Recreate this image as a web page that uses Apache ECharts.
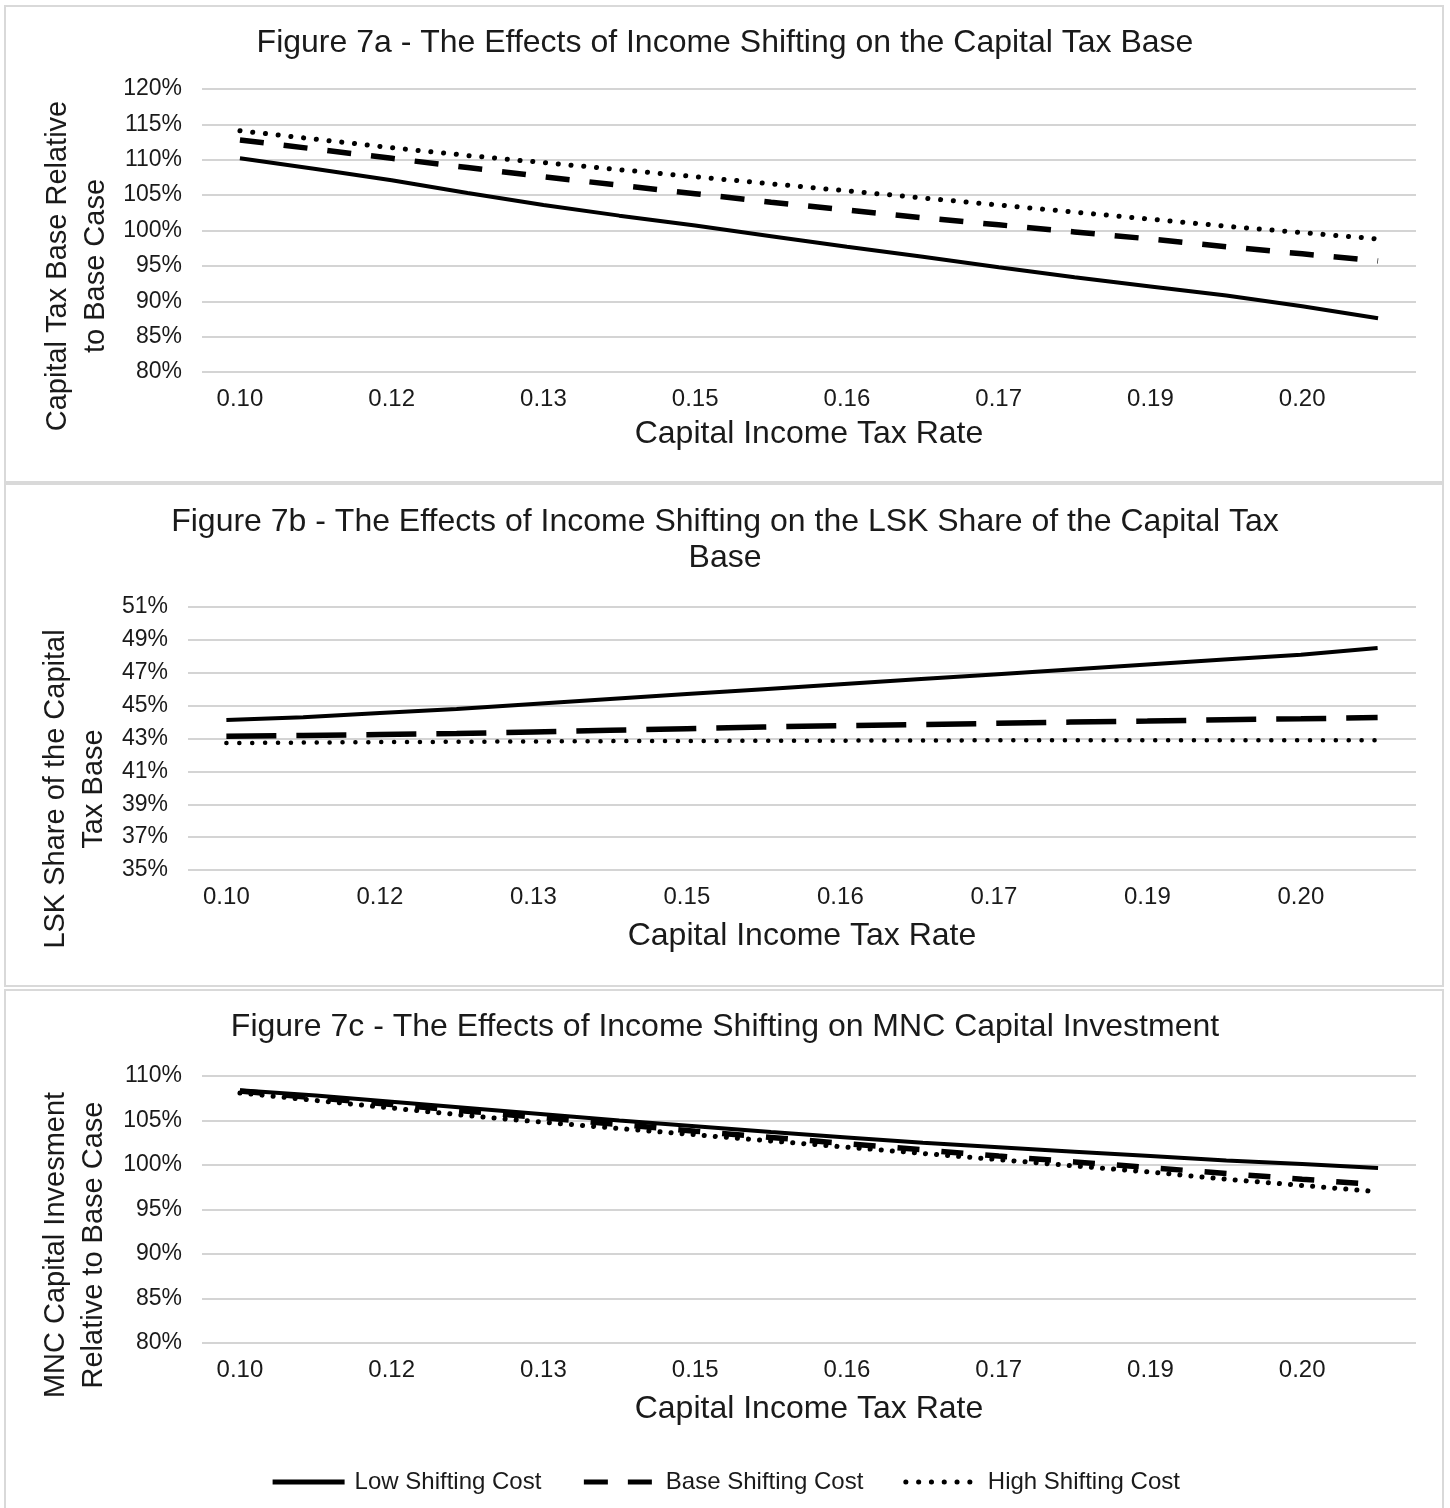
<!DOCTYPE html>
<html><head><meta charset="utf-8">
<script src="https://cdn.jsdelivr.net/npm/echarts@6/dist/echarts.min.js"></script>
<style>html,body{margin:0;padding:0;background:#fff}#c{width:1450px;height:1508px}</style>
</head><body><div id="c"></div>
<script>
// ---- data ----
const rates = ['0.1000','0.1075','0.1150','0.1225','0.1300','0.1375','0.1450','0.1525','0.1600','0.1675','0.1750','0.1825','0.1900','0.1975','0.2050','0.2125'];
const tickLabels = ['0.10','0.12','0.13','0.15','0.16','0.17','0.19','0.20'];
const seriesNames = ['Low Shifting Cost','Base Shifting Cost','High Shifting Cost'];
const titles = [
  'Figure 7a - The Effects of Income Shifting on the Capital Tax Base',
  'Figure 7b - The Effects of Income Shifting on the LSK Share of the Capital Tax\nBase',
  'Figure 7c - The Effects of Income Shifting on MNC Capital Investment'
];
const yNames = [
  'Capital Tax Base Relative\nto Base Case',
  'LSK Share of the Capital\nTax Base',
  'MNC Capital Invesment\nRelative to Base Case'
];
const xName = 'Capital Income Tax Rate';

// Figure 7a: capital tax base relative to base case (%)
const baseLow  = [110.2,108.7,107.1,105.3,103.6,102.1,100.7,99.2,97.7,96.3,94.8,93.4,92.1,90.8,89.3,87.6];
const baseBase = [112.8,111.5,110.2,108.9,107.6,106.4,105.2,104.0,102.9,101.8,100.8,99.8,98.8,97.7,96.7,95.7];
const baseHigh = [114.1,112.9,111.7,110.6,109.6,108.6,107.6,106.6,105.6,104.6,103.6,102.6,101.6,100.6,99.7,98.8];
// Figure 7b: LSK share of the capital tax base (%)
const lskLow  = [44.13,44.3,44.55,44.8,45.1,45.4,45.7,46.0,46.3,46.6,46.9,47.2,47.5,47.8,48.1,48.5];
const lskBase = [43.14,43.18,43.24,43.3,43.4,43.5,43.6,43.7,43.78,43.85,43.92,44.0,44.06,44.14,44.2,44.27];
const lskHigh = [42.72,42.75,42.78,42.8,42.82,42.84,42.85,42.86,42.87,42.88,42.89,42.9,42.9,42.9,42.9,42.9];
// Figure 7c: MNC capital investment relative to base case (%)
const invLow  = [108.4,107.8,107.1,106.4,105.7,105.0,104.35,103.7,103.1,102.5,102.0,101.5,101.0,100.5,100.1,99.66];
const invBase = [108.3,107.55,106.8,106.05,105.3,104.55,103.8,103.1,102.4,101.7,101.0,100.35,99.7,99.05,98.4,97.8];
const invHigh = [108.1,107.25,106.4,105.55,104.8,104.1,103.4,102.7,102.0,101.3,100.6,99.9,99.2,98.4,97.7,97.0];

const yRanges = [[80,120,5],[35,51,2],[80,110,5]];
const panelData = [[baseLow,baseBase,baseHigh],[lskLow,lskBase,lskHigh],[invLow,invBase,invHigh]];

// ---- layout / style ----
const FONT = '"Liberation Sans", Arial, sans-serif';
const TXT = '#1a1a1a';
const grids = [
  {left:202, right:34, top:89, height:283},
  {left:188, right:34, top:607, height:263},
  {left:202, right:34, top:1076, height:267}
];
const titleTops = [25, 504, 1009];
const yNameCenters = [[77,266],[75,789],[75,1245]];
const panels = [[5,6,1438,476],[5,484,1438,502],[5,990,1438,530]];
const dashStyles = [
  [{type:'solid',width:4}, {type:[24,20],width:5.5}, {type:[0.1,12.7],width:5,cap:'round'}],
  [{type:'solid',width:4}, {type:[50,20],width:5.5}, {type:[0.1,12.8],width:4.5,cap:'round'}],
  [{type:'solid',width:4}, {type:[22,22],width:5.5}, {type:[0.1,11],width:5,cap:'round'}]
];

const chart = echarts.init(document.getElementById('c'), null, {renderer:'canvas'});

const xAxes = grids.map((g,i)=>({
  type:'category', gridIndex:i, data:rates, boundaryGap:true,
  axisLine:{show:false}, axisTick:{show:false},
  axisLabel:{interval:1, margin:15, fontSize:24, fontFamily:FONT, color:TXT,
    formatter:(v,idx)=> (idx%2===0 ? tickLabels[idx/2] : '')},
  name:xName, nameLocation:'middle', nameGap:[46,50,50][i],
  nameTextStyle:{fontSize:32, fontFamily:FONT, color:TXT}
}));
const yAxes = grids.map((g,i)=>({
  type:'value', gridIndex:i, min:yRanges[i][0], max:yRanges[i][1], interval:yRanges[i][2],
  axisLine:{show:false}, axisTick:{show:false},
  axisLabel:{margin:20, fontSize:23, fontFamily:FONT, color:TXT, formatter:'{value}%'},
  splitLine:{show:true, lineStyle:{color:'#c6c6c6', width:1.5}}
}));

const series = [];
panelData.forEach((arrs,p)=>{
  arrs.forEach((arr,k)=>{
    series.push({
      type:'line', name:seriesNames[k], xAxisIndex:p, yAxisIndex:p, data:arr,
      symbol:'none', showSymbol:false, smooth:false, silent:true, animation:false,
      lineStyle:Object.assign({color:'#000'}, dashStyles[p][k]),
      itemStyle:{color:'#000'}, z:10-k
    });
  });
});

const graphic = [];
panels.forEach(r=>graphic.push({type:'rect', shape:{x:r[0],y:r[1],width:r[2],height:r[3]}, style:{fill:'none', stroke:'#d9d9d9', lineWidth:2}, z:-1, silent:true}));
yNames.forEach((t,i)=>graphic.push({type:'text', x:yNameCenters[i][0], y:yNameCenters[i][1], rotation:Math.PI/2,
  style:{text:t, fontSize:29, fontFamily:FONT, fill:TXT, align:'center', verticalAlign:'middle', lineHeight:38}, silent:true}));

chart.setOption({
  backgroundColor:'#fff', animation:false,
  title: titles.map((t,i)=>({text:t, left:'center', top:titleTops[i], padding:0,
    textStyle:{fontSize:32, fontWeight:'normal', fontFamily:FONT, color:TXT, lineHeight:36}})),
  grid: grids.map(g=>Object.assign({containLabel:false, outerBoundsMode:'none'}, g)),
  xAxis:xAxes, yAxis:yAxes, series:series, graphic:graphic,
  legend:{data:seriesNames, left:'center', top:1465, itemWidth:72, itemHeight:14, itemGap:40,
    itemStyle:{opacity:0}, lineStyle:{width:5},
    textStyle:{fontSize:24, fontFamily:FONT, color:TXT, padding:[0,0,0,5]}}
});
</script></body></html>
